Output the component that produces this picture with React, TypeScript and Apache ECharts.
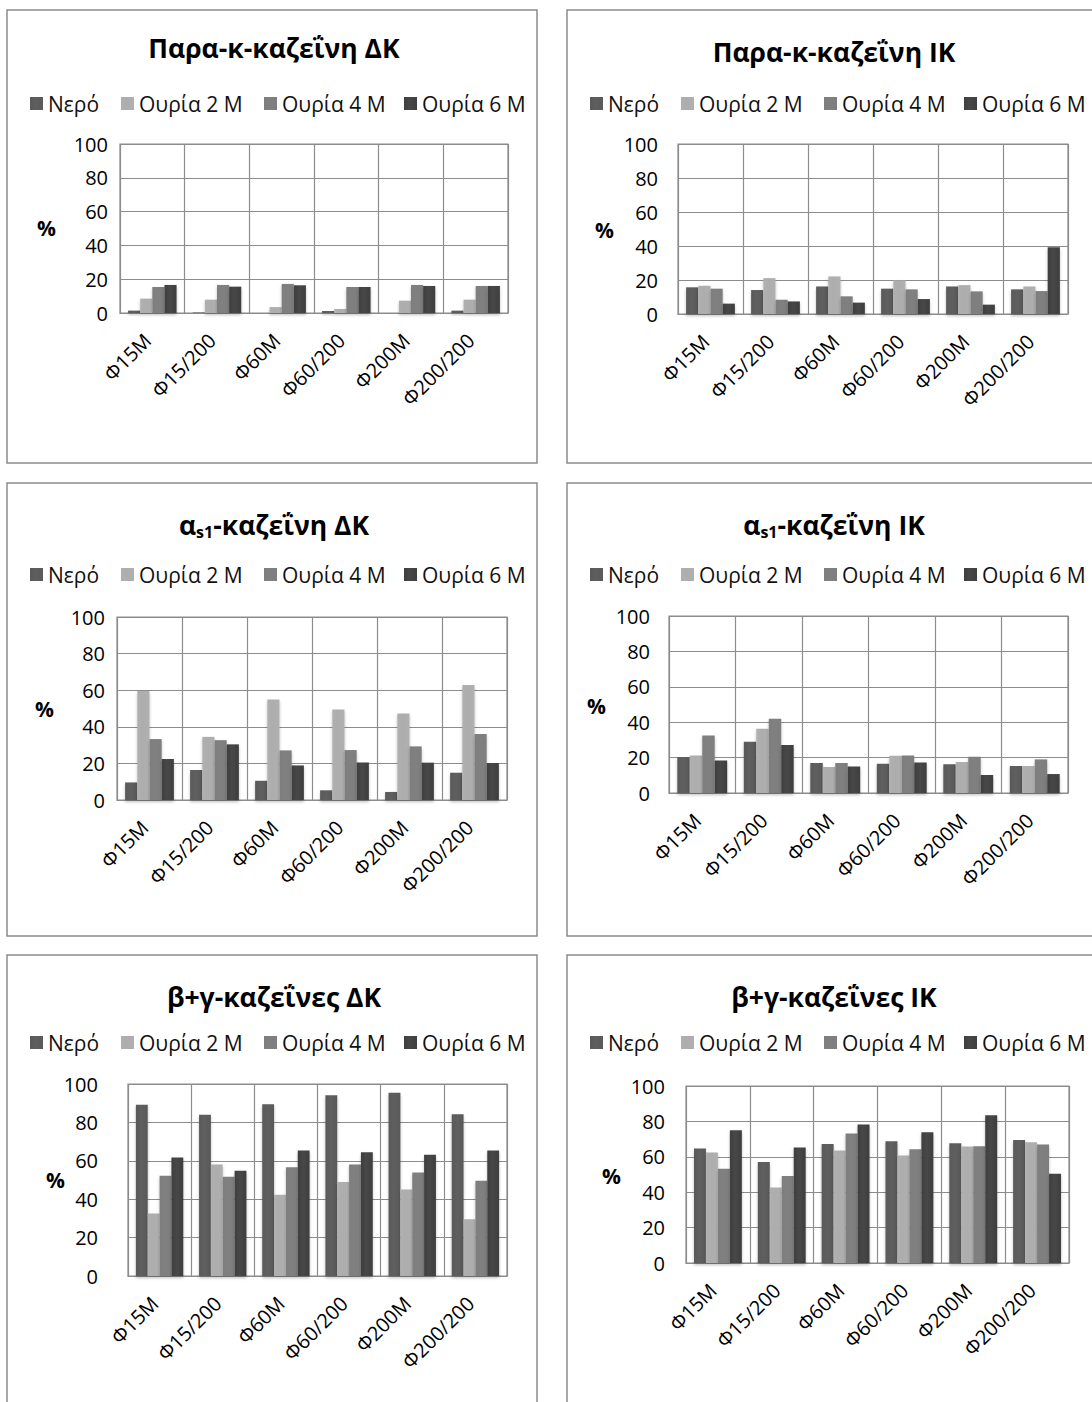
import React, { useEffect, useRef } from "react";
import * as echarts from "echarts";

const categories = ["Φ15M", "Φ15/200", "Φ60M", "Φ60/200", "Φ200M", "Φ200/200"];
const seriesNames = ["Νερό", "Ουρία 2 M", "Ουρία 4 M", "Ουρία 6 M"];
const yTicks = [0, 20, 40, 60, 80, 100];

// rows: Νερό, Ουρία 2 M, Ουρία 4 M, Ουρία 6 M ; columns follow categories
const paraKappaDK: number[][] = [
  [1.4, 0.3, 0, 1.2, 0, 1.4],
  [8.5, 7.9, 3.5, 2.4, 7.3, 7.9],
  [15.4, 16.6, 17.2, 15.4, 16.6, 16],
  [16.6, 15.6, 16.4, 15.4, 16, 16],
];
const paraKappaIK: number[][] = [
  [15.7, 14.1, 16.2, 14.9, 16.2, 14.5],
  [16.6, 21.1, 22.1, 19.8, 17, 16.2],
  [14.9, 8.4, 10.4, 14.5, 13.3, 13.5],
  [6.1, 7.4, 6.7, 8.8, 5.5, 39.3],
];
const alphaS1DK: number[][] = [
  [9.6, 16.4, 10.5, 5.3, 4.4, 14.9],
  [59.5, 34.5, 54.9, 49.5, 47.3, 62.9],
  [33.3, 32.7, 27.1, 27.3, 29.3, 36],
  [22.4, 30.4, 18.9, 20.5, 20.4, 20.2],
];
const alphaS1IK: number[][] = [
  [20.3, 28.9, 16.9, 16.5, 16.2, 15.2],
  [21.2, 36.3, 14.7, 21, 17.5, 15.2],
  [32.5, 41.9, 16.9, 21.2, 20.5, 19],
  [18.4, 27.1, 15, 17.3, 10.2, 10.7],
];
const betaGammaDK: number[][] = [
  [89.2, 84, 89.4, 94.1, 95.5, 84.2],
  [32.5, 58.1, 42.3, 48.9, 45, 29.6],
  [52.2, 51.7, 56.7, 58.1, 53.9, 49.6],
  [61.7, 54.8, 65.4, 64.5, 63.1, 65.4],
];
const betaGammaIK: number[][] = [
  [64.7, 57.1, 67.3, 68.8, 67.7, 69.5],
  [62.4, 42.7, 63.5, 60.7, 65.8, 68.2],
  [53.2, 49.2, 73.1, 64.3, 66, 66.9],
  [75, 65.2, 78.2, 73.9, 83.5, 50.4],
];

const panelData = [paraKappaDK, paraKappaIK, alphaS1DK, alphaS1IK, betaGammaDK, betaGammaIK];
const panelTitles = [
  "{t|Παρα-κ-καζεΐνη ΔΚ}",
  "{t|Παρα-κ-καζεΐνη ΙΚ}",
  "{t|α}{s|s1}{t|-καζεΐνη ΔΚ}",
  "{t|α}{s|s1}{t|-καζεΐνη ΙΚ}",
  "{t|β+γ-καζεΐνες ΔΚ}",
  "{t|β+γ-καζεΐνες ΙΚ}",
];

// layout (pixels)
const panelX = [7, 567];
const panelY = [10, 483, 955];
const panelW = 530;
const panelH = 453;
// plot area relative to panel: left, top, width, height
const plotRects = [
  [113, 134, 388, 169],
  [111, 134, 390, 170],
  [110, 134, 390, 183],
  [102, 133, 399, 177],
  [121, 129, 379, 192],
  [119, 131, 383, 177],
];
const labelMargins = [12, 20, 12, 19, 30, 21];
const titleTops = [19, 23, 21, 21, 23, 23];
const legendTops = [78, 78, 76, 76, 72, 72];
const legendItemLefts = [23, 114, 257, 397];
const percentPos = [
  [30, 218],
  [28, 220],
  [28, 226],
  [20, 223],
  [39, 225],
  [35, 221],
];

const colors = ["#555555", "#a8a8a8", "#787878", "#3c3c3c"];
const FONT = "Open Sans";

function shade(c: string) {
  const base = echarts.color.lift(c, -0.05);
  const light = echarts.color.lift(c, 0.06);
  return new echarts.graphic.LinearGradient(0, 0, 1, 0, [
    { offset: 0, color: base },
    { offset: 0.45, color: light },
    { offset: 1, color: base },
  ]);
}

export default function App() {
  const ref = useRef<HTMLDivElement>(null);
  useEffect(() => {
    if (!ref.current) return;
    const chart = echarts.init(ref.current, undefined, { renderer: "svg" });
    const grids: any[] = [];
    const xAxes: any[] = [];
    const yAxes: any[] = [];
    const series: any[] = [];
    const titles: any[] = [];
    const legends: any[] = [];
    const graphics: any[] = [];
    panelData.forEach((data, i) => {
      const col = i % 2;
      const row = Math.floor(i / 2);
      const px = panelX[col];
      const py = panelY[row];
      const [l, t, w, h] = plotRects[i];
      graphics.push({
        type: "rect",
        shape: { x: px, y: py, width: panelW, height: panelH },
        style: { fill: "none", stroke: "#8c8c8c", lineWidth: 1.5 },
        z: 0,
      });
      graphics.push({
        type: "text",
        x: px + percentPos[i][0],
        y: py + percentPos[i][1],
        style: { text: "%", font: `bold 21px '${FONT}'`, fill: "#000", textAlign: "left", textVerticalAlign: "middle" },
      });
      grids.push({
        left: px + l,
        top: py + t,
        width: w,
        height: h,
        show: true,
        borderColor: "#8c8c8c",
        borderWidth: 1.2,
        backgroundColor: "transparent",
      });
      titles.push({
        text: panelTitles[i],
        left: px + panelW / 2 - 3,
        textAlign: "center",
        top: py + titleTops[i],
        textStyle: {
          rich: {
            t: { fontFamily: FONT, fontSize: 26.5, fontWeight: "bold", color: "#000" },
            s: { fontFamily: FONT, fontSize: 16, fontWeight: "bold", color: "#000", padding: [15, 0, 0, 0] },
          },
        },
      });
      seriesNames.forEach((n, k) => {
        legends.push({
          data: [{ name: n }],
          left: px + legendItemLefts[k] - 5,
          top: py + legendTops[i],
          icon: "rect",
          itemWidth: 13,
          itemHeight: 13,
          textStyle: { fontFamily: FONT, fontSize: 21, color: "#111" },
          selectedMode: false,
        });
      });
      xAxes.push({
        type: "category",
        gridIndex: i,
        data: categories,
        axisLine: { show: true, lineStyle: { color: "#8c8c8c", width: 1.2 } },
        axisTick: { show: false },
        splitLine: { show: true, lineStyle: { color: "#8c8c8c", width: 1.2 } },
        axisLabel: {
          rotate: 45,
          fontFamily: FONT,
          fontSize: 20,
          color: "#000",
          margin: 19,
          interval: 0,
          padding: [0, 7, 0, 0],
        },
      });
      yAxes.push({
        type: "value",
        gridIndex: i,
        min: yTicks[0],
        max: yTicks[yTicks.length - 1],
        interval: yTicks[1] - yTicks[0],
        axisLine: { show: false },
        axisTick: { show: false },
        splitLine: { show: true, lineStyle: { color: "#8c8c8c", width: 1.2 } },
        axisLabel: { fontFamily: FONT, fontSize: 20, color: "#000", margin: labelMargins[i] },
      });
      data.forEach((vals, s) => {
        series.push({
          type: "bar",
          name: seriesNames[s],
          xAxisIndex: i,
          yAxisIndex: i,
          data: vals,
          barGap: "0%",
          barCategoryGap: "25%",
          itemStyle: {
            color: shade(colors[s]),
            shadowColor: "rgba(0,0,0,0.25)",
            shadowBlur: 3,
            shadowOffsetY: 2,
          },
        });
      });
    });
    chart.setOption({
      animation: false,
      backgroundColor: "#fff",
      color: colors,
      title: titles,
      legend: legends,
      grid: grids,
      xAxis: xAxes,
      yAxis: yAxes,
      series,
      graphic: graphics,
    });
    return () => chart.dispose();
  }, []);
  return (
    <div
      ref={ref}
      style={{ position: "absolute", left: 0, top: 0, width: 1092, height: 1402 }}
    />
  );
}
